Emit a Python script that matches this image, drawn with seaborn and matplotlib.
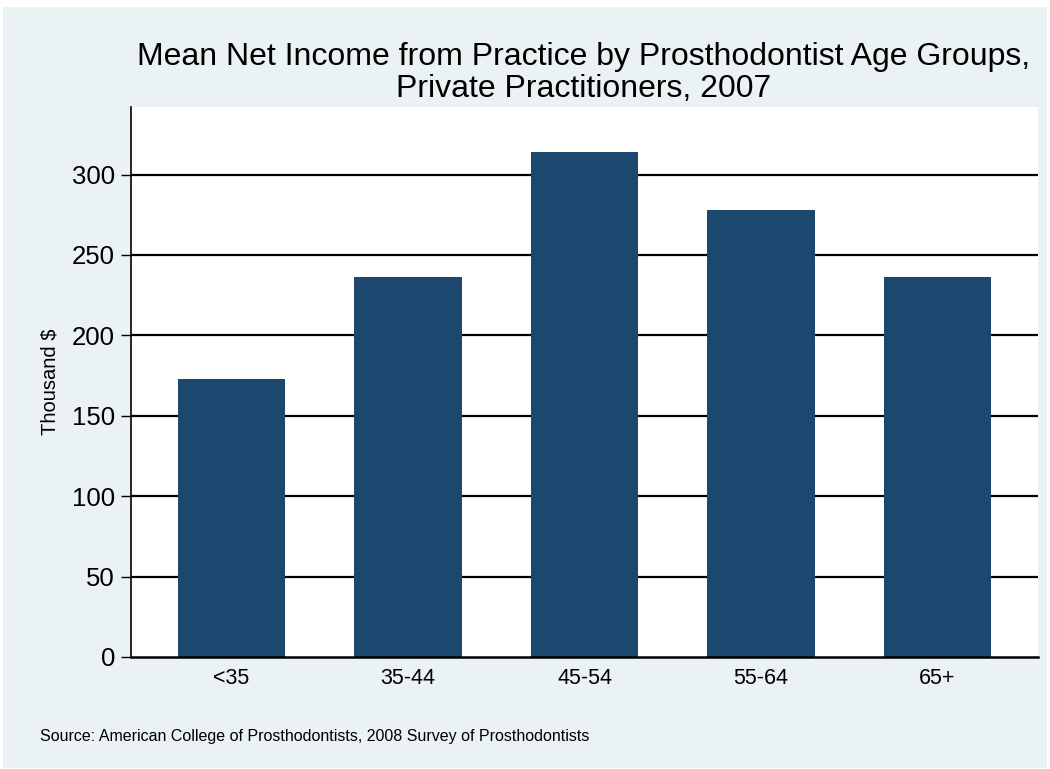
import matplotlib
matplotlib.use("Agg")
import matplotlib.pyplot as plt
import seaborn as sns
import pandas as pd
from matplotlib.patches import Rectangle

# values
age_groups = ["<35", "35-44", "45-54", "55-64", "65+"]
income = [173, 236.5, 314, 278, 236]
y_ticks = [0, 50, 100, 150, 200, 250, 300]

title_1 = "Mean Net Income from Practice by Prosthodontist Age Groups,"
title_2 = "Private Practitioners, 2007"
source = "Source: American College of Prosthodontists, 2008 Survey of Prosthodontists"

bg = "#eaf2f3"
bar_color = "#1c4870"

sns.set_style("white")
plt.rcParams["font.family"] = ["Liberation Sans", "DejaVu Sans"]
plt.rcParams["text.color"] = "black"
plt.rcParams["xtick.color"] = "black"
plt.rcParams["ytick.color"] = "black"
plt.rcParams["axes.labelcolor"] = "black"

df = pd.DataFrame({"group": age_groups, "income": income})

fig = plt.figure(figsize=(10.5, 7.69), dpi=100)
fig.patch.set_facecolor("white")
fig.patches.append(Rectangle((3 / 1050, 1 - 768 / 769), 1044 / 1050, 761 / 769,
                             transform=fig.transFigure, facecolor=bg,
                             edgecolor="none", zorder=-10))

ax = fig.add_axes([131 / 1050, 1 - 657 / 769, 907 / 1050, 550 / 769])
ax.set_zorder(1)
ax.set_facecolor("white")

sns.barplot(data=df, x="group", y="income", order=age_groups, color=bar_color,
            saturation=1, width=0.607, ax=ax, zorder=3, edgecolor="none")

ax.set_xlim(-0.57, 4.57)
ax.set_ylim(0, 342)
ax.set_yticks(y_ticks)
ax.set_yticklabels([str(t) for t in y_ticks], fontsize=18.5)
ax.tick_params(axis="y", length=7.5, width=1, color="black", pad=4, direction="out", left=True)
ax.tick_params(axis="x", length=0, labelsize=15.5, pad=8)

for t in y_ticks[1:]:
    ax.axhline(t, color="black", lw=1.6, zorder=1)

for side in ["top", "right"]:
    ax.spines[side].set_visible(False)
ax.spines["left"].set_color("black")
ax.spines["left"].set_linewidth(1.2)
ax.spines["bottom"].set_color("black")
ax.spines["bottom"].set_linewidth(1.8)
ax.spines["bottom"].set_zorder(4)

ax.set_xlabel("")
ax.set_ylabel("Thousand $", fontsize=14.5, labelpad=9)

fig.text(584 / 1050, 1 - 65 / 769, title_1, ha="center", va="baseline", fontsize=23)
fig.text(584 / 1050, 1 - 97 / 769, title_2, ha="center", va="baseline", fontsize=23)
fig.text(40 / 1050, 1 - 741 / 769, source, ha="left", va="baseline", fontsize=11.5)

fig.savefig("out.png", dpi=100, facecolor=fig.get_facecolor())
